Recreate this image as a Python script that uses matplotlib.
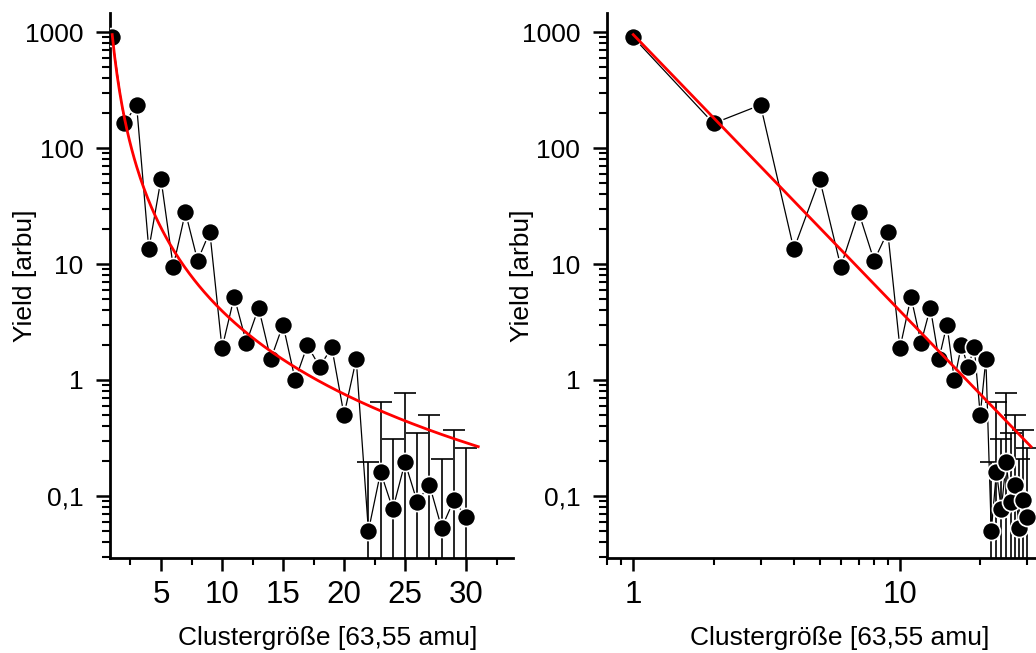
import numpy as np
import matplotlib
matplotlib.use('Agg')
import matplotlib.pyplot as plt
from matplotlib.ticker import MultipleLocator, FixedLocator, LogLocator, FuncFormatter, NullFormatter

plt.rcParams['font.family'] = ['Liberation Sans', 'DejaVu Sans']

#############################################################################################
# data

cluster_size = [1, 2, 3, 4, 5, 6, 7, 8, 9, 10,
                11, 12, 13, 14, 15, 16, 17, 18, 19, 20,
                21, 22, 23, 24, 25, 26, 27, 28, 29, 30]
yield_arbu = [900, 163, 235, 13.4, 54, 9.5, 28, 10.7, 19, 1.88,
              5.2, 2.1, 4.2, 1.51, 3.0, 1.0, 1.99, 1.3, 1.91, 0.50,
              1.51, 0.050, 0.161, 0.077, 0.195, 0.089, 0.125, 0.053, 0.092, 0.066]

# only the big clusters carry error bars (upper half visible, lower half runs off the axis)
err_size = [22, 23, 24, 25, 26, 27, 28, 29, 30]
err_yield = [0.148, 0.485, 0.233, 0.585, 0.261, 0.375, 0.157, 0.278, 0.194]

# power law fit  Y = A * n^-b
fit_A = 950.0
fit_b = 2.382
fit_range = (1, 31)

y_ticks = [0.1, 1, 10, 100, 1000]
y_labels = ['0,1', '1', '10', '100', '1000']
xlabel_text = 'Clustergröße [63,55 amu]'
ylabel_text = 'Yield [arbu]'

#############################################################################################

def style_axis(ax):
	for side in ['top', 'right']:
		ax.spines[side].set_visible(False)
	for side in ['left', 'bottom']:
		ax.spines[side].set_linewidth(2.0)
	ax.set_yscale('log')
	ax.set_ylim(0.0292, 1459)
	ax.yaxis.set_major_locator(FixedLocator(y_ticks))
	ax.yaxis.set_major_formatter(FuncFormatter(lambda v, p: dict(zip(y_ticks, y_labels)).get(v, '')))
	ax.yaxis.set_minor_locator(LogLocator(base=10, subs=np.arange(2, 10)))
	ax.yaxis.set_minor_formatter(NullFormatter())
	ax.tick_params(axis='y', which='major', direction='out', length=10, width=1.8, labelsize=19, pad=9)
	ax.tick_params(axis='y', which='minor', direction='out', length=5.5, width=1.5)
	ax.tick_params(axis='x', which='major', direction='out', length=9.5, width=1.8, labelsize=22.5, pad=6)
	ax.tick_params(axis='x', which='minor', direction='out', length=5, width=1.5)
	ax.set_xlabel(xlabel_text, fontsize=19)
	ax.set_ylabel(ylabel_text, fontsize=19)

def draw_data(ax):
	n_fit = np.linspace(fit_range[0], fit_range[1], 300)
	ax.plot(cluster_size, yield_arbu, color='black', lw=0.9, zorder=2)
	ax.errorbar(err_size, yield_arbu[-len(err_size):], yerr=err_yield, fmt='none',
		ecolor='black', elinewidth=1.2, capsize=8, capthick=1.2, zorder=2)
	ax.plot(cluster_size, yield_arbu, 'o', color='black', ms=13, mec='white', mew=1.2, zorder=3)
	ax.plot(n_fit, fit_A*n_fit**(-fit_b), color='red', lw=2.0, zorder=4)

fig = plt.figure(figsize=(10.36, 6.53), dpi=100)

ax1 = fig.add_axes([110/1036, 95/653, 403/1036, 545/653])
draw_data(ax1)
style_axis(ax1)
ax1.set_xlim(0.82, 33.85)
ax1.xaxis.set_major_locator(MultipleLocator(5))
ax1.xaxis.set_minor_locator(MultipleLocator(2.5))
ax1.yaxis.set_label_coords(-0.18, 0.517)
ax1.xaxis.set_label_coords(0.54, -0.125)

ax2 = fig.add_axes([606.7/1036, 95/653, 453.8/1036, 545/653])
draw_data(ax2)
style_axis(ax2)
ax2.set_xscale('log')
ax2.set_xlim(0.795, 40)
ax2.xaxis.set_major_locator(FixedLocator([1, 10]))
ax2.xaxis.set_major_formatter(FuncFormatter(lambda v, p: '%d' % v))
ax2.xaxis.set_minor_locator(LogLocator(base=10, subs=np.arange(2, 10)))
ax2.xaxis.set_minor_formatter(NullFormatter())
ax2.tick_params(axis='x', which='major', direction='out', length=9.5, width=1.8, labelsize=22.5, pad=6)
ax2.tick_params(axis='x', which='minor', direction='out', length=5, width=1.5)
ax2.yaxis.set_label_coords(-0.16, 0.517)
ax2.xaxis.set_label_coords(0.514, -0.125)

fig.savefig('out.png', dpi=100)
